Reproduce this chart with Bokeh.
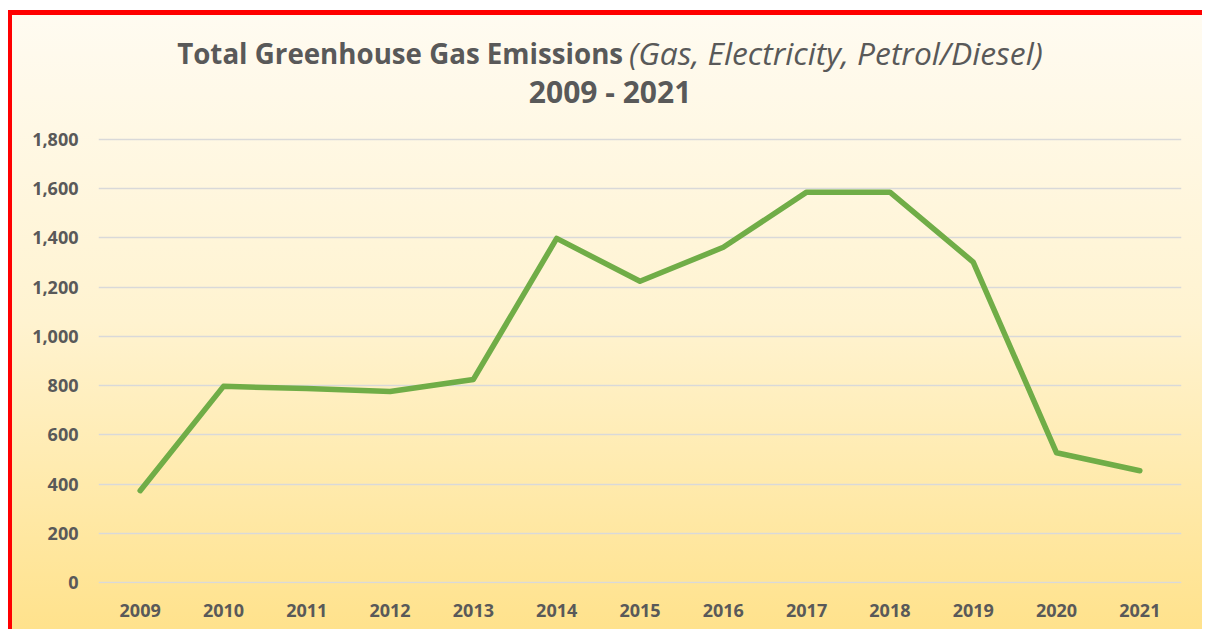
from bokeh.plotting import figure
from bokeh.models import ColumnDataSource, Range1d, FixedTicker, NumeralTickFormatter
from bokeh.core.properties import value
from bokeh.embed import file_html
from bokeh.resources import INLINE

years = ["2009", "2010", "2011", "2012", "2013", "2014", "2015", "2016", "2017", "2018", "2019", "2020", "2021"]
emissions = [373, 797, 788, 776, 825, 1398, 1224, 1362, 1586, 1586, 1302, 527, 454]
y_ticks = [0, 200, 400, 600, 800, 1000, 1200, 1400, 1600, 1800]
title_bold = "Total Greenhouse Gas Emissions"
title_italic = "(Gas, Electricity, Petrol/Diesel)"
title_line2 = "2009 - 2021"

FONT = "Open Sans"
GREY = "#595959"

src = ColumnDataSource(dict(year=years, value=emissions))

# frame: 445 px for 1808 data units; extended upward so the title sits inside it
PX = 1808 / 445
p = figure(
    x_range=years, y_range=Range1d(-4, -4 + 568 * PX),
    width=1194, height=619,
    min_border_left=86, min_border_right=25, min_border_top=0, min_border_bottom=51,
    output_backend="svg", toolbar_location=None,
)
p.styles = {
    "border-top": "5px solid #FF0000",
    "border-left": "4px solid #FF0000",
    "margin-top": "10px",
    "margin-left": "8px",
    "background": "linear-gradient(to bottom, #FFFBF1 0%, #FFF3D0 50%, #FFE28C 100%)",
}
p.border_fill_alpha = 0
p.background_fill_alpha = 0
p.outline_line_color = None

p.line("year", "value", source=src, line_color="#70AD47", line_width=5.5,
       line_cap="round", line_join="round")

p.xgrid.grid_line_color = None
p.ygrid.grid_line_color = "#D9D9D9"
p.ygrid.grid_line_width = 1.5
p.yaxis.ticker = FixedTicker(ticks=y_ticks)
p.yaxis.formatter = NumeralTickFormatter(format="0,0")

for ax in (p.xaxis, p.yaxis):
    ax.axis_line_color = None
    ax.major_tick_line_color = None
    ax.minor_tick_line_color = None
    ax.major_label_text_font = FONT
    ax.major_label_text_font_style = "bold"
    ax.major_label_text_font_size = "18px"
    ax.major_label_text_color = GREY
p.yaxis.major_label_standoff = 14
p.xaxis.major_label_standoff = 14

# title (x in categorical synthetic units, y in data units above the value range)
p.text(x=[6.297], y=[2152], text=[title_bold], text_align="right", text_baseline="middle",
       text_font=value(FONT), text_font_style="bold", text_font_size="27.7px", text_color=GREY)
p.text(x=[6.369], y=[2152], text=[title_italic], text_align="left", text_baseline="middle",
       text_font=value(FONT), text_font_style="italic", text_font_size="31.8px", text_color=GREY)
p.text(x=[6.141], y=[1994], text=[title_line2], text_align="center", text_baseline="middle",
       text_font=value(FONT), text_font_style="bold", text_font_size="30px", text_color=GREY)

open("out.html", "w").write(file_html(p, INLINE))
